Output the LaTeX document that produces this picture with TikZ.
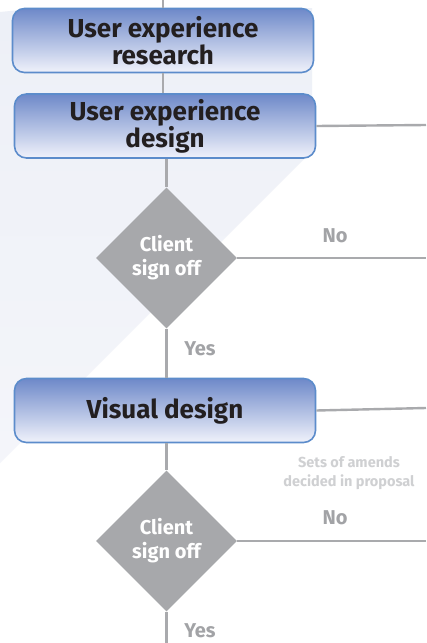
\documentclass[tikz,border=0pt]{standalone}
\usepackage{fontspec}
\setmainfont{Fira Sans}
\usetikzlibrary{shapes.geometric}
\definecolor{bgpale}{HTML}{EDF0F7}
\definecolor{bgpale2}{HTML}{F4F5FA}
\definecolor{boxtop}{HTML}{6E89C9}
\definecolor{boxbot}{HTML}{F0F2FB}
\definecolor{boxedge}{HTML}{5C8CCB}
\definecolor{txtdark}{HTML}{231F20}
\definecolor{greyfill}{HTML}{A7A8AB}
\definecolor{greyline}{HTML}{A9AAAD}
\definecolor{greytext}{HTML}{A2A3A6}
\definecolor{palegrey}{HTML}{CFD0D2}
\tikzset{
  stepbox/.style={draw=boxedge, line width=1.6pt, rounded corners=12pt,
    top color=boxtop, bottom color=boxbot, minimum width=301pt, minimum height=64pt,
    align=center, text=txtdark, font=\bfseries\fontsize{26}{27}\selectfont, inner sep=0pt},
  decision/.style={diamond, aspect=1, fill=greyfill, minimum width=141pt, minimum height=141pt,
    inner sep=0pt, align=center, text=white, font=\bfseries\fontsize{20}{24}\selectfont},
  conn/.style={draw=greyline, line width=2.4pt},
  answer/.style={text=greytext, font=\bfseries\fontsize{20}{22}\selectfont},
  note/.style={text=palegrey, align=center, font=\bfseries\fontsize{14.5}{19}\selectfont}
}
\begin{document}
\begin{tikzpicture}[x=1pt,y=-1pt]
\useasboundingbox (0,0) rectangle (426,643);
\fill[fill=white] (0,0) rectangle (426,643);
\shade[top color=bgpale, bottom color=bgpale2] (0,12) -- (40,8) -- (312,8) -- (312,151) -- (0,463) -- cycle;

\coordinate (top) at (163,0);
\node[stepbox] (b1) at (163,40.5) {User experience\\research};
\node[stepbox] (b2) at (165,126) {User experience\\design};
\node[decision] (d1) at (166.5,258) {Client\\sign off};
\node[stepbox] (b3) at (165,410.5) {Visual design};
\node[decision] (d2) at (166.5,541) {Client\\sign off};

\coordinate (r2) at (426,125);
\coordinate (r3) at (426,258);
\coordinate (r4) at (426,408);
\coordinate (r5) at (426,541);
\coordinate (bot) at (166.5,643);

\draw[conn] (top) -- (b1.north);
\draw[conn] (b1.south) -- (b1.south |- b2.north);
\draw[conn] (b2.east) -- (r2);
\draw[conn] (d1.north |- b2.south) -- (d1.north);
\draw[conn] (d1.east) -- (r3);
\draw[conn] (d1.south) -- (d1.south |- b3.north);
\draw[conn] (b3.east) -- (r4);
\draw[conn] (d2.north |- b3.south) -- (d2.north);
\draw[conn] (d2.east) -- (r5);
\draw[conn] (d2.south) -- (bot);

\node[answer] (no1) at (335,236) {No};
\node[answer] (yes1) at (200,349) {Yes};
\node[note] (amends) at (349,473) {Sets of amends\\decided in proposal};
\node[answer] (no2) at (335,518) {No};
\node[answer] (yes2) at (200,631) {Yes};
\end{tikzpicture}
\end{document}
